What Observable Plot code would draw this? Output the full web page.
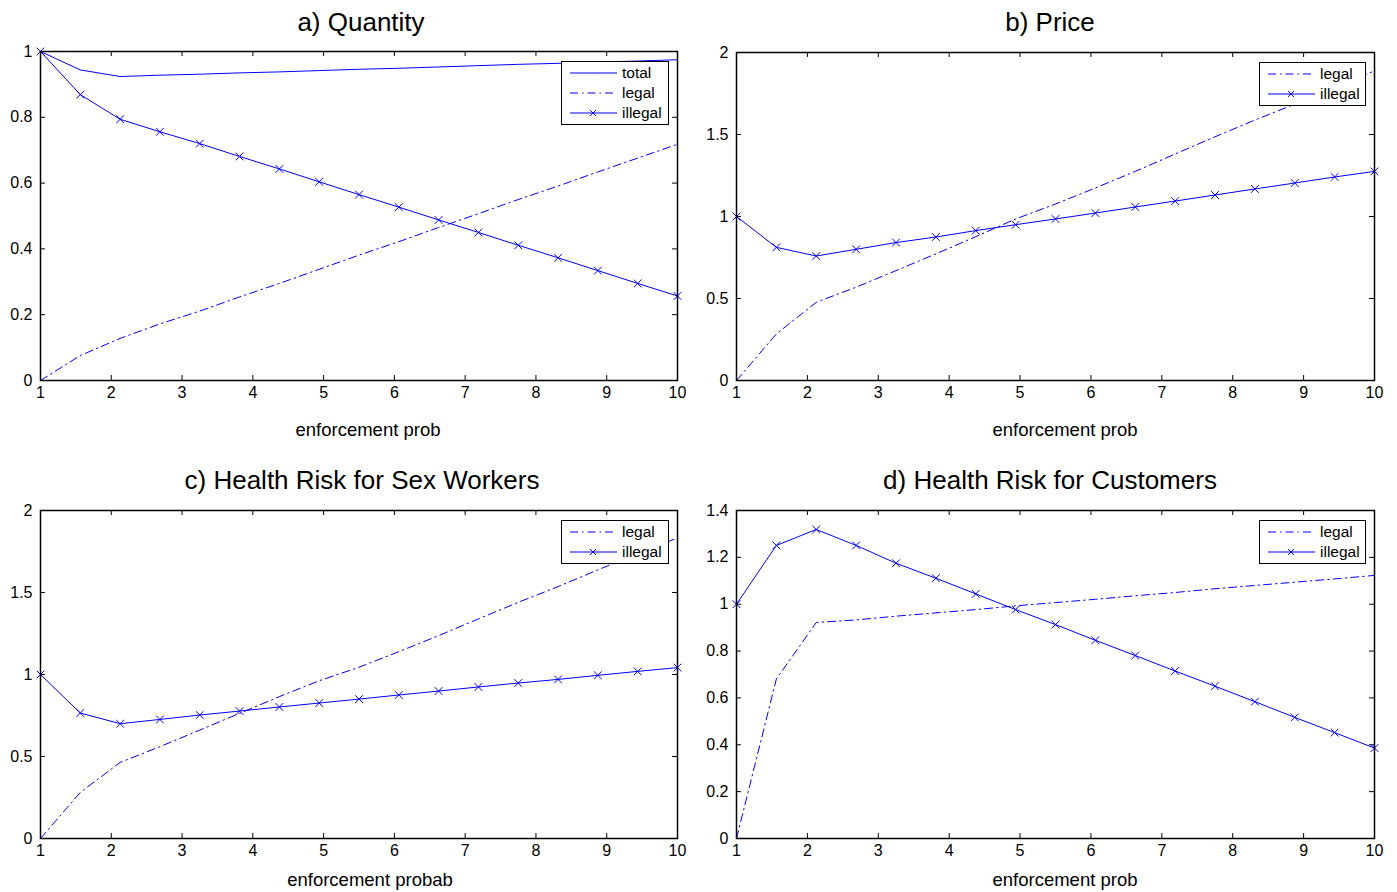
<!DOCTYPE html>
<html><head><meta charset="utf-8">
<script src="https://cdn.jsdelivr.net/npm/d3@7"></script>
<script src="https://cdn.jsdelivr.net/npm/@observablehq/plot@0.6"></script>
<style>
body{margin:0;background:#fff;font-family:"Liberation Sans",Arial,sans-serif;color:#000;}
#root{position:relative;width:1397px;height:892px;overflow:hidden;background:#fff;}
.title{position:absolute;font-size:26px;white-space:nowrap;transform:translate(-50%,-50%);line-height:1;}
.xlabel{position:absolute;font-size:18.5px;white-space:nowrap;transform:translate(-50%,-50%);line-height:1;}
.panel{position:absolute;}
.panel svg text{font-size:16px !important;fill:#000;}
.legend{position:absolute;background:#fff;border:1.5px solid #000;box-sizing:border-box;padding-top:1px;}
.row{display:flex;align-items:center;height:20px;font-size:15.5px;}
.row svg{margin-left:8px;margin-right:5px;}
</style></head>
<body><div id="root"></div>
<script>
// ---- data ----
const xs = [1, 1.5625, 2.125, 2.6875, 3.25, 3.8125, 4.375, 4.9375, 5.5, 6.0625, 6.625, 7.1875, 7.75, 8.3125, 8.875, 9.4375, 10];
const xTicks = [1, 2, 3, 4, 5, 6, 7, 8, 9, 10];

const qTotal   = [1.0, 0.944, 0.924, 0.928, 0.931, 0.935, 0.938, 0.942, 0.946, 0.949, 0.953, 0.957, 0.961, 0.964, 0.968, 0.971, 0.975];
const qLegal   = [0.0, 0.076, 0.128, 0.172, 0.211, 0.254, 0.295, 0.338, 0.381, 0.422, 0.465, 0.507, 0.550, 0.591, 0.634, 0.676, 0.718];
const qIllegal = [1.0, 0.869, 0.794, 0.756, 0.720, 0.681, 0.643, 0.604, 0.565, 0.527, 0.488, 0.450, 0.411, 0.373, 0.334, 0.295, 0.257];

const pLegal   = [0.0, 0.284, 0.477, 0.569, 0.670, 0.772, 0.877, 0.985, 1.076, 1.174, 1.275, 1.381, 1.486, 1.588, 1.685, 1.787, 1.888];
const pIllegal = [1.0, 0.812, 0.759, 0.800, 0.841, 0.875, 0.914, 0.950, 0.985, 1.021, 1.058, 1.094, 1.131, 1.168, 1.204, 1.241, 1.275];

const hsLegal   = [0.0, 0.281, 0.464, 0.560, 0.661, 0.763, 0.865, 0.962, 1.044, 1.139, 1.237, 1.339, 1.440, 1.536, 1.638, 1.736, 1.833];
const hsIllegal = [1.0, 0.765, 0.700, 0.726, 0.753, 0.777, 0.802, 0.826, 0.850, 0.875, 0.899, 0.924, 0.948, 0.970, 0.995, 1.019, 1.042];

const hcLegal   = [0.0, 0.681, 0.922, 0.933, 0.949, 0.963, 0.977, 0.993, 1.007, 1.021, 1.036, 1.050, 1.066, 1.080, 1.094, 1.108, 1.123];
const hcIllegal = [1.0, 1.251, 1.319, 1.251, 1.175, 1.111, 1.044, 0.977, 0.913, 0.846, 0.781, 0.715, 0.650, 0.584, 0.517, 0.452, 0.386];

const yTicksA = [0, 0.2, 0.4, 0.6, 0.8, 1];
const yTicksB = [0, 0.5, 1, 1.5, 2];
const yTicksC = [0, 0.5, 1, 1.5, 2];
const yTicksD = [0, 0.2, 0.4, 0.6, 0.8, 1, 1.2, 1.4];

const titles  = ["a) Quantity", "b) Price", "c) Health Risk for Sex Workers", "d) Health Risk for Customers"];
const xLabels = ["enforcement prob", "enforcement prob", "enforcement probab", "enforcement prob"];

// ---- layout / style ----
const BLUE = "#0000ff";
const DASHDOT = "8,4,1.5,4";
const panels = [
  {title: titles[0], xlabel: xLabels[0], left: 40, right: 677, top: 51, bottom: 380, svgLeft: 0, width: 697, yDomain: [0, 1], yTicks: yTicksA, titleX: 361, titleY: 22, labelX: 368, labelY: 430, legendW: 108,
   series: [{name: "total", values: qTotal, kind: "solid"}, {name: "legal", values: qLegal, kind: "dashdot"}, {name: "illegal", values: qIllegal, kind: "marker"}]},
  {title: titles[1], xlabel: xLabels[1], left: 736, right: 1374, top: 52, bottom: 380, svgLeft: 697, width: 700, yDomain: [0, 2], yTicks: yTicksB, titleX: 1050, titleY: 22, labelX: 1065, labelY: 430, legendW: 107,
   series: [{name: "legal", values: pLegal, kind: "dashdot"}, {name: "illegal", values: pIllegal, kind: "marker"}]},
  {title: titles[2], xlabel: xLabels[2], left: 40, right: 677, top: 510, bottom: 838, svgLeft: 0, width: 697, yDomain: [0, 2], yTicks: yTicksC, titleX: 362, titleY: 480, labelX: 370, labelY: 880, legendW: 108,
   series: [{name: "legal", values: hsLegal, kind: "dashdot"}, {name: "illegal", values: hsIllegal, kind: "marker"}]},
  {title: titles[3], xlabel: xLabels[3], left: 736, right: 1374, top: 510, bottom: 838, svgLeft: 697, width: 700, yDomain: [0, 1.4], yTicks: yTicksD, titleX: 1050, titleY: 480, labelX: 1065, labelY: 880, legendW: 107,
   series: [{name: "legal", values: hcLegal, kind: "dashdot"}, {name: "illegal", values: hcIllegal, kind: "marker"}]}
];

const root = document.getElementById("root");
const MT = 15, MB = 30, TICK = 5;

for (const p of panels) {
  const innerW = p.right - p.left, innerH = p.bottom - p.top;
  const marks = [];
  // inward ticks on all four sides
  marks.push(Plot.tickX(xTicks, {x: d => d, insetTop: innerH - TICK, stroke: "black", strokeWidth: 1}));
  marks.push(Plot.tickX(xTicks, {x: d => d, insetBottom: innerH - TICK, stroke: "black", strokeWidth: 1}));
  marks.push(Plot.tickY(p.yTicks, {y: d => d, insetRight: innerW - TICK, stroke: "black", strokeWidth: 1}));
  marks.push(Plot.tickY(p.yTicks, {y: d => d, insetLeft: innerW - TICK, stroke: "black", strokeWidth: 1}));
  // axis labels
  marks.push(Plot.axisX({ticks: xTicks, tickFormat: d => String(d), tickSize: 0, tickPadding: 6, fontSize: 16, label: null}));
  marks.push(Plot.axisY({ticks: p.yTicks, tickFormat: d => String(d), tickSize: 0, tickPadding: 8, fontSize: 16, label: null}));
  // series
  for (const s of p.series) {
    const data = xs.map((x, i) => ({x, y: s.values[i]}));
    marks.push(Plot.line(data, {x: "x", y: "y", stroke: BLUE, strokeWidth: 1,
      strokeDasharray: s.kind === "dashdot" ? DASHDOT : null}));
    if (s.kind === "marker") {
      marks.push(Plot.dot(data, {x: "x", y: "y", symbol: "times", r: 3.6, stroke: BLUE, strokeWidth: 1, fill: "none"}));
    }
  }
  marks.push(Plot.frame({stroke: "black", strokeWidth: 1.5}));

  const svgTop = p.top - MT;
  const chart = Plot.plot({
    width: p.width,
    height: innerH + MT + MB,
    marginLeft: p.left - p.svgLeft,
    marginRight: p.width - (p.right - p.svgLeft),
    marginTop: MT,
    marginBottom: MB,
    x: {domain: [1, 10]},
    y: {domain: p.yDomain},
    style: {fontFamily: "Liberation Sans, Arial, sans-serif", fontSize: "16px", color: "black", background: "transparent", overflow: "visible"},
    marks
  });
  const wrap = document.createElement("div");
  wrap.className = "panel";
  wrap.style.left = p.svgLeft + "px";
  wrap.style.top = svgTop + "px";
  wrap.appendChild(chart);
  root.appendChild(wrap);

  // title
  const t = document.createElement("div");
  t.className = "title";
  t.textContent = p.title;
  t.style.left = p.titleX + "px";
  t.style.top = p.titleY + "px";
  root.appendChild(t);

  // x label
  const xl = document.createElement("div");
  xl.className = "xlabel";
  xl.textContent = p.xlabel;
  xl.style.left = p.labelX + "px";
  xl.style.top = p.labelY + "px";
  root.appendChild(xl);

  // legend
  const lg = document.createElement("div");
  lg.className = "legend";
  lg.style.width = p.legendW + "px";
  lg.style.height = (p.series.length * 20 + 4) + "px";
  lg.style.left = (p.right - 8 - p.legendW) + "px";
  lg.style.top = (p.top + 10) + "px";
  for (const s of p.series) {
    const row = document.createElement("div");
    row.className = "row";
    const ns = "http://www.w3.org/2000/svg";
    const sw = document.createElementNS(ns, "svg");
    sw.setAttribute("width", 47); sw.setAttribute("height", 20);
    const ln = document.createElementNS(ns, "line");
    ln.setAttribute("x1", 0); ln.setAttribute("x2", 47); ln.setAttribute("y1", 10); ln.setAttribute("y2", 10);
    ln.setAttribute("stroke", BLUE); ln.setAttribute("stroke-width", 1);
    if (s.kind === "dashdot") ln.setAttribute("stroke-dasharray", DASHDOT);
    sw.appendChild(ln);
    if (s.kind === "marker") {
      const m = document.createElementNS(ns, "path");
      m.setAttribute("d", "M20,7L26,13M20,13L26,7");
      m.setAttribute("stroke", BLUE); m.setAttribute("stroke-width", 1); m.setAttribute("fill", "none");
      sw.appendChild(m);
    }
    row.appendChild(sw);
    const tx = document.createElement("span");
    tx.textContent = s.name;
    row.appendChild(tx);
    lg.appendChild(row);
  }
  root.appendChild(lg);
}
</script>
</body></html>
